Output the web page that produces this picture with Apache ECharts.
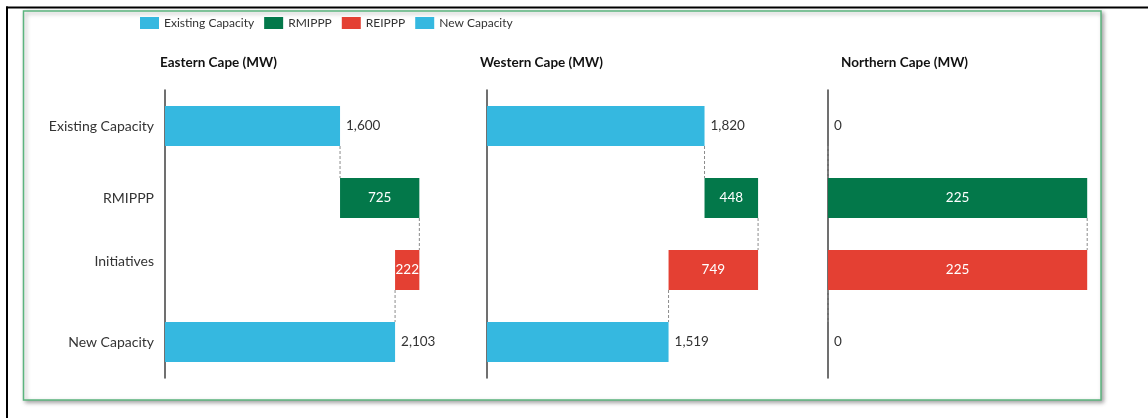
<!DOCTYPE html>
<html>
<head>
<meta charset="utf-8">
<script src="https://cdn.jsdelivr.net/npm/echarts@6/dist/echarts.min.js"></script>
<style>
  html, body { margin: 0; padding: 0; background: #fff; }
  #chart { width: 1148px; height: 418px; }
</style>
</head>
<body>
<div id="chart"></div>
<script>
// categories and values
const categories = ["Existing Capacity", "RMIPPP", "Initiatives", "New Capacity"];
const provinces = ["Eastern Cape (MW)", "Western Cape (MW)", "Northern Cape (MW)"];
const existingCapacity = [1600, 1820, 0];
const rmippp = [725, 448, 225];
const reippp = [222, 749, 225];
const newCapacity = [2103, 1519, 0];
const axisMax = [2500, 2500, 250];

const BLUE = "#35b8e0", GREEN = "#03784a", RED = "#e44033";
const FONT = "Lato";
const TEXT = "#333";
const BAR_W = 40;

const gridLeft = [165, 487, 828];
const gridWidth = [273.5, 298.8, 288];
const titleLeft = [155, 475, 836];

const fmt = v => Number(v).toLocaleString("en-US");

let grids = [], xAxes = [], yAxes = [], series = [], titles = [];

provinces.forEach((p, i) => {
  grids.push({ left: gridLeft[i], width: gridWidth[i], top: 90, height: 288, containLabel: false });
  xAxes.push({ gridIndex: i, type: "value", min: 0, max: axisMax[i], show: false });
  yAxes.push({
    gridIndex: i, type: "category", inverse: true,
    data: categories,
    axisLine: { show: true, lineStyle: { color: "#404040", width: 1.5 } },
    axisTick: { show: false },
    axisLabel: {
      show: i === 0, color: TEXT, fontFamily: FONT, fontSize: 14, margin: 11,
      formatter: v => v === "Initiatives" ? "{up|" + v + "}" : v,
      rich: { up: { fontFamily: FONT, fontSize: 14, color: TEXT, padding: [0, 0, 18, 0] } }
    },
    splitLine: { show: false }
  });
  titles.push({
    text: p, left: titleLeft[i], top: 51,
    textStyle: { fontFamily: FONT, fontSize: 13.5, fontWeight: "bold", color: "#111" }
  });

  const stack = "wf" + i;
  const base = [0, existingCapacity[i], newCapacity[i], 0];
  const common = { type: "bar", xAxisIndex: i, yAxisIndex: i, stack: stack, barWidth: BAR_W };
  const outLabel = { show: true, position: "right", distance: 6, color: TEXT,
    fontFamily: FONT, fontSize: 13.5, formatter: d => fmt(d.value) };
  const inLabel = { show: true, position: "inside", color: "#fff",
    fontFamily: FONT, fontSize: 13.5, formatter: d => fmt(d.value) };

  series.push(Object.assign({}, common, {
    name: "base", data: base, itemStyle: { color: "transparent" }, silent: true
  }));
  series.push(Object.assign({}, common, {
    name: "Existing Capacity", data: [existingCapacity[i], "-", "-", "-"],
    itemStyle: { color: BLUE }, label: outLabel
  }));
  series.push(Object.assign({}, common, {
    name: "RMIPPP", data: ["-", rmippp[i], "-", "-"],
    itemStyle: { color: GREEN }, label: inLabel
  }));
  series.push(Object.assign({}, common, {
    name: "REIPPP", data: ["-", "-", reippp[i], "-"],
    itemStyle: { color: RED }, label: inLabel
  }));
  series.push(Object.assign({}, common, {
    name: "New Capacity", data: ["-", "-", "-", newCapacity[i]],
    itemStyle: { color: BLUE }, label: outLabel
  }));

  // dashed connectors between bar ends
  const top1 = existingCapacity[i] + rmippp[i];
  series.push({
    type: "custom", xAxisIndex: i, yAxisIndex: i, silent: true, z: 3,
    data: [[existingCapacity[i], 0, 1], [top1, 1, 2], [newCapacity[i], 2, 3]],
    encode: { x: 0, y: 1 },
    renderItem: (params, api) => {
      const a = api.coord([api.value(0), api.value(1)]);
      const b = api.coord([api.value(0), api.value(2)]);
      return {
        type: "line",
        shape: { x1: a[0], y1: a[1] + BAR_W / 2, x2: b[0], y2: b[1] - BAR_W / 2 },
        style: { stroke: "#8c8c8c", lineWidth: 1, lineDash: [3, 2] }
      };
    }
  });
});

const chart = echarts.init(document.getElementById("chart"));
chart.setOption({
  animation: false,
  backgroundColor: "#fff",
  title: titles,
  legend: {
    data: ["Existing Capacity", "RMIPPP", "REIPPP", "New Capacity"],
    left: 135, top: 12, itemWidth: 19, itemHeight: 12, itemGap: 10,
    icon: "rect",
    textStyle: { fontFamily: FONT, fontSize: 12, color: TEXT }
  },
  graphic: [
    { type: "line", shape: { x1: 6, y1: 7.5, x2: 1148, y2: 7.5 }, style: { stroke: "#000", lineWidth: 2 }, z: -10 },
    { type: "line", shape: { x1: 7, y1: 6.5, x2: 7, y2: 418 }, style: { stroke: "#000", lineWidth: 2 }, z: -10 },
    {
      type: "rect", z: -10,
      shape: { x: 23.5, y: 11, width: 1077.5, height: 389 },
      style: {
        fill: "#fff", stroke: "#5bb47e", lineWidth: 1.5,
        shadowBlur: 4, shadowOffsetX: 2, shadowOffsetY: 2, shadowColor: "rgba(0,0,0,0.35)"
      }
    }
  ],
  grid: grids,
  xAxis: xAxes,
  yAxis: yAxes,
  series: series
});
</script>
</body>
</html>
